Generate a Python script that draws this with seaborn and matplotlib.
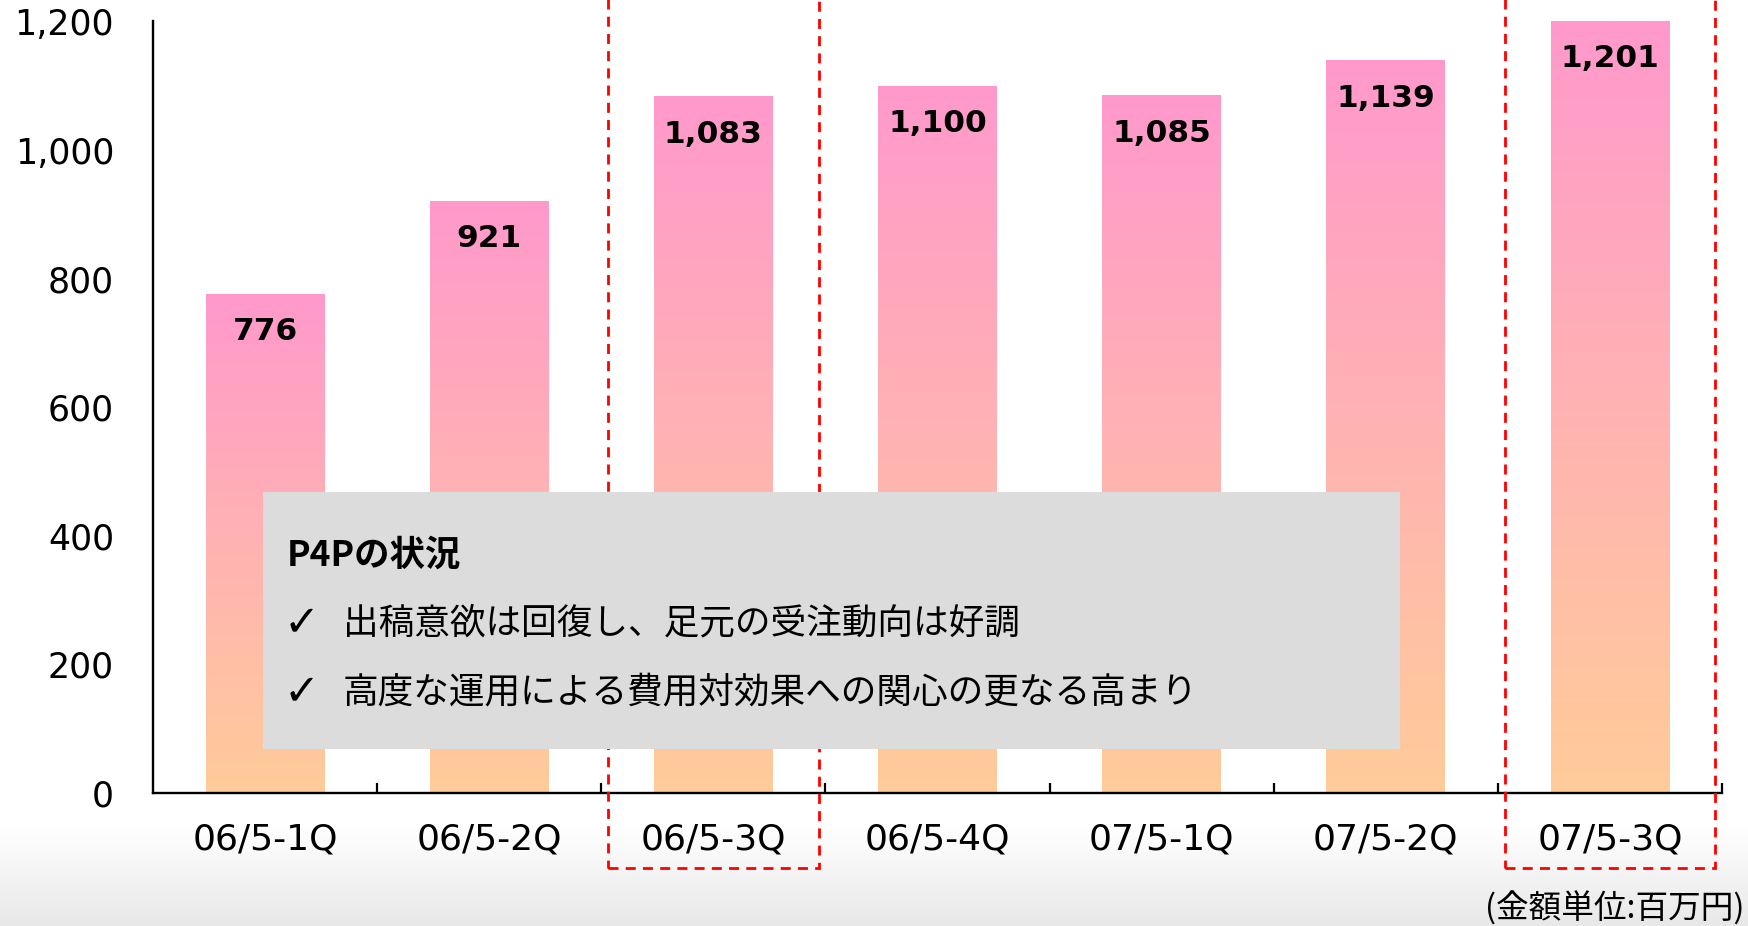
import numpy as np
import pandas as pd
import matplotlib
matplotlib.use("Agg")
import matplotlib.pyplot as plt
import seaborn as sns
from matplotlib.patches import Rectangle
from matplotlib.transforms import blended_transform_factory
from matplotlib.colors import LinearSegmentedColormap

# ---------------- data ----------------
quarters = ["06/5-1Q", "06/5-2Q", "06/5-3Q", "06/5-4Q", "07/5-1Q", "07/5-2Q", "07/5-3Q"]
revenue = [776, 921, 1083, 1100, 1085, 1139, 1201]
highlight = ["06/5-3Q", "07/5-3Q"]
yticks = [0, 200, 400, 600, 800, 1000, 1200]
box_title = "P4Pの状況"
box_points = ["出稿意欲は回復し、足元の受注動向は好調",
              "高度な運用による費用対効果への関心の更なる高まり"]
unit_note = "(金額単位:百万円)"

# ---------------- style ----------------
sns.set_theme(style="white")
plt.rcParams['font.family'] = ['DejaVu Sans']
CJK = ['Noto Sans CJK JP', 'DejaVu Sans']

W, H = 1748, 926
fig = plt.figure(figsize=(W / 100, H / 100), dpi=100)
fig.patch.set_facecolor("white")


def fx(px):
    return px / W


def fy(py):
    return 1 - py / H


# subtle grey fade at the bottom of the screenshot
rows = 100
shade = np.linspace(1.0, 0.91, rows)
bg = np.repeat(shade[:, None], W, axis=1)
bg = np.dstack([bg, bg, bg])
fig.figimage(bg, xo=0, yo=0, origin='upper', zorder=-5)

ax = fig.add_axes([fx(153), fy(793), fx(1722) - fx(153), fy(20.5) - fy(793)])
ax.patch.set_alpha(0)

df = pd.DataFrame({"quarter": quarters, "revenue": revenue})
sns.barplot(data=df, x="quarter", y="revenue", color="#FF99CC", width=0.53,
            saturation=1, ax=ax, zorder=2)

# vertical gradient in every bar: pink top -> peach bottom
cmap = LinearSegmentedColormap.from_list("pinkpeach", ["#FFCC99", "#FF99CC"])
grad = np.linspace(0, 1, 256).reshape(-1, 1)
for p in list(ax.patches):
    x0, y0, w, h = p.get_x(), p.get_y(), p.get_width(), p.get_height()
    ax.imshow(grad, extent=[x0, x0 + w, y0, y0 + h], origin='lower',
              aspect='auto', cmap=cmap, zorder=2.1, interpolation='bicubic')
    p.set_facecolor('none')
    p.set_edgecolor('none')
    ax.annotate(f"{int(round(h)):,}", xy=(x0 + w / 2, h), xytext=(0, -27),
                textcoords='offset points', ha='center', va='center',
                fontsize=22.5, fontweight='bold', color='black', zorder=4)

ax.set_xlim(-0.5, len(quarters) - 0.5)
ax.set_ylim(0, 1202)
ax.set_yticks(yticks)
ax.set_yticklabels([f"{t:,}" for t in yticks])
ax.set_xlabel("")
ax.set_ylabel("")

ax.tick_params(axis='y', length=0, pad=28, labelsize=25, labelcolor='black')
ax.tick_params(axis='x', which='major', length=0, pad=21, labelsize=26,
               labelcolor='black')
ax.set_xticks(np.arange(0.5, len(quarters), 1.0), minor=True)
ax.tick_params(axis='x', which='minor', direction='in', length=7, width=1.6,
               color='black', bottom=True)

for s in ['top', 'right']:
    ax.spines[s].set_visible(False)
for s in ['left', 'bottom']:
    ax.spines[s].set_color('black')
    ax.spines[s].set_linewidth(1.7)
    ax.spines[s].set_zorder(3)

# red dashed highlight frames
trans = blended_transform_factory(ax.transData, fig.transFigure)
for q in highlight:
    i = quarters.index(q)
    ax.add_patch(Rectangle((i - 0.47, fy(868)), 0.94, fy(-10) - fy(868),
                           transform=trans, fill=False, edgecolor='#FF0000',
                           linewidth=2.0, linestyle=(0, (3.6, 2.6)),
                           clip_on=False, zorder=5))

# grey comment box
fig.add_artist(Rectangle((fx(263), fy(749)), fx(1400) - fx(263), fy(492) - fy(749),
                         transform=fig.transFigure, facecolor='#DCDCDC',
                         edgecolor='none', zorder=10))
fig.text(fx(287), fy(555), box_title, ha='left', va='center', fontsize=25.5,
         fontweight='bold', family=CJK, color='black', zorder=11)
for k, line in enumerate(box_points):
    yy = [623, 692][k]
    fig.text(fx(284), fy(yy), "✓", ha='left', va='center', fontsize=31,
             family=['DejaVu Sans'], color='black', zorder=11)
    fig.text(fx(343), fy(yy), line, ha='left', va='center', fontsize=25.7,
             family=CJK, color='black', zorder=11)

fig.text(fx(1745), fy(909), unit_note, ha='right', va='center', fontsize=23.5,
         family=CJK, color='black', zorder=11)

fig.savefig("out.png", dpi=100)
